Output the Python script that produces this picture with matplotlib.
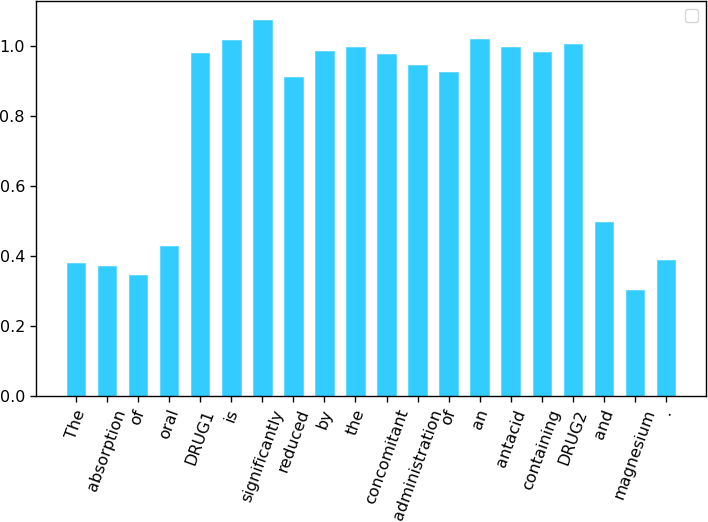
import matplotlib
matplotlib.use('Agg')
import matplotlib.pyplot as plt

words = ['The', 'absorption', 'of', 'oral', 'DRUG1', 'is', 'significantly',
         'reduced', 'by', 'the', 'concomitant', 'administration', 'of', 'an',
         'antacid', 'containing', 'DRUG2', 'and', 'magnesium', '.']
weights = [0.381, 0.372, 0.347, 0.430, 0.981, 1.017, 1.076, 0.914, 0.988, 0.997,
           0.978, 0.947, 0.927, 1.021, 0.997, 0.984, 1.008, 0.499, 0.304, 0.389]

plt.rcParams['font.size'] = 11.5
plt.rcParams['axes.linewidth'] = 1.0
plt.rcParams['xtick.major.size'] = 4.5
plt.rcParams['ytick.major.size'] = 4.5
plt.rcParams['xtick.major.width'] = 1.0
plt.rcParams['ytick.major.width'] = 1.0

fig = plt.figure(figsize=(7.08, 5.22), dpi=100)
ax = fig.add_axes([0.051, 0.241, 0.946, 0.757])

x = list(range(len(words)))
ax.bar(x, weights, width=0.6, color='#33ccff', edgecolor='#5cd6ff', linewidth=0.6)
ax.set_xticks(x)
ax.set_xticklabels(words, rotation=70)
ax.legend()

fig.savefig('out.png', dpi=100)
